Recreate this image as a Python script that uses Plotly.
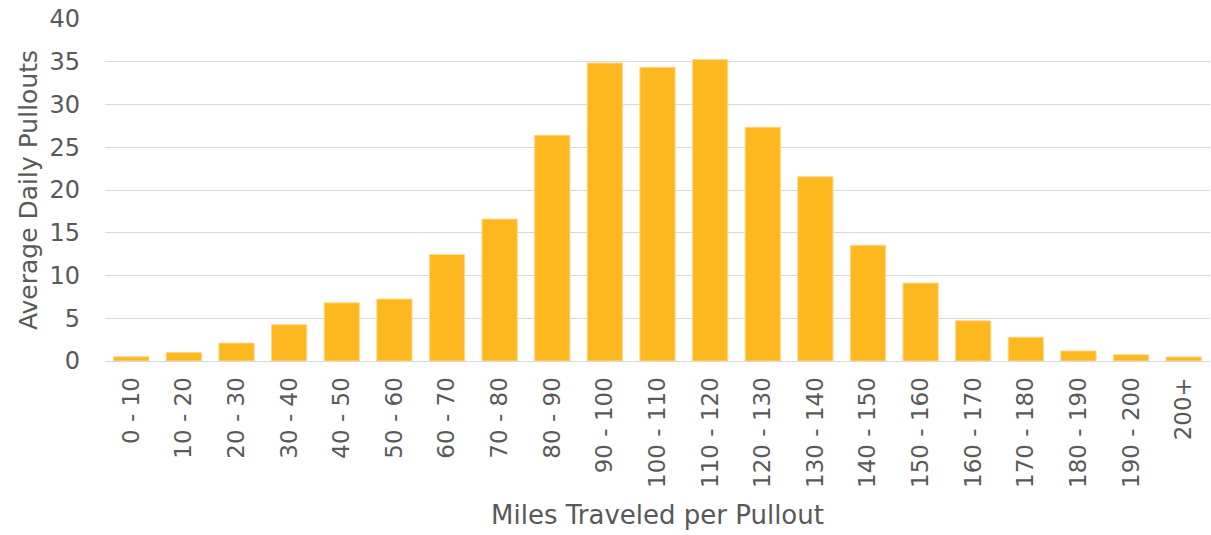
import plotly.graph_objects as go

categories = ["0 - 10", "10 - 20", "20 - 30", "30 - 40", "40 - 50", "50 - 60", "60 - 70",
              "70 - 80", "80 - 90", "90 - 100", "100 - 110", "110 - 120", "120 - 130",
              "130 - 140", "140 - 150", "150 - 160", "160 - 170", "170 - 180", "180 - 190",
              "190 - 200", "200+"]
avg_daily_pullouts = [0.5, 1.0, 2.1, 4.25, 6.8, 7.25, 12.45, 16.6, 26.4, 34.85, 34.35, 35.25,
                      27.35, 21.55, 13.55, 9.12, 4.7, 2.78, 1.18, 0.74, 0.48]
y_ticks = [0, 5, 10, 15, 20, 25, 30, 35, 40]

GOLD = "#FDB71F"
TEXT = "#595959"
FONT = "DejaVu Sans"

fig = go.Figure(go.Bar(
    x=categories, y=avg_daily_pullouts,
    marker=dict(color=GOLD, line=dict(color="#FDD88A", width=1)),
))

fig.update_layout(
    width=1211, height=535,
    margin=dict(l=105, r=1, t=19, b=174),
    paper_bgcolor="white", plot_bgcolor="white",
    bargap=0.33,
    showlegend=False,
    font=dict(family=FONT, color=TEXT, size=18),
    xaxis=dict(
        type="category", tickangle=-90, showgrid=False, ticks="",
        showline=True, linecolor="#D9D9D9", linewidth=1,
        tickfont=dict(size=23, color=TEXT, family=FONT),
        ticklabelstandoff=6,
        title=dict(text="Miles Traveled per Pullout", font=dict(size=26, color=TEXT, family=FONT), standoff=18),
        automargin=False,
    ),
    yaxis=dict(
        range=[0, 40], tickvals=y_ticks, showgrid=True, gridcolor="#D9D9D9", gridwidth=1,
        zeroline=False, ticks="", ticklabelstandoff=24,
        tickfont=dict(size=24, color=TEXT, family=FONT),
        title=dict(text="Average Daily Pullouts", font=dict(size=25, color=TEXT, family=FONT), standoff=4),
        automargin=False,
    ),
)

fig.write_html("out.html")
